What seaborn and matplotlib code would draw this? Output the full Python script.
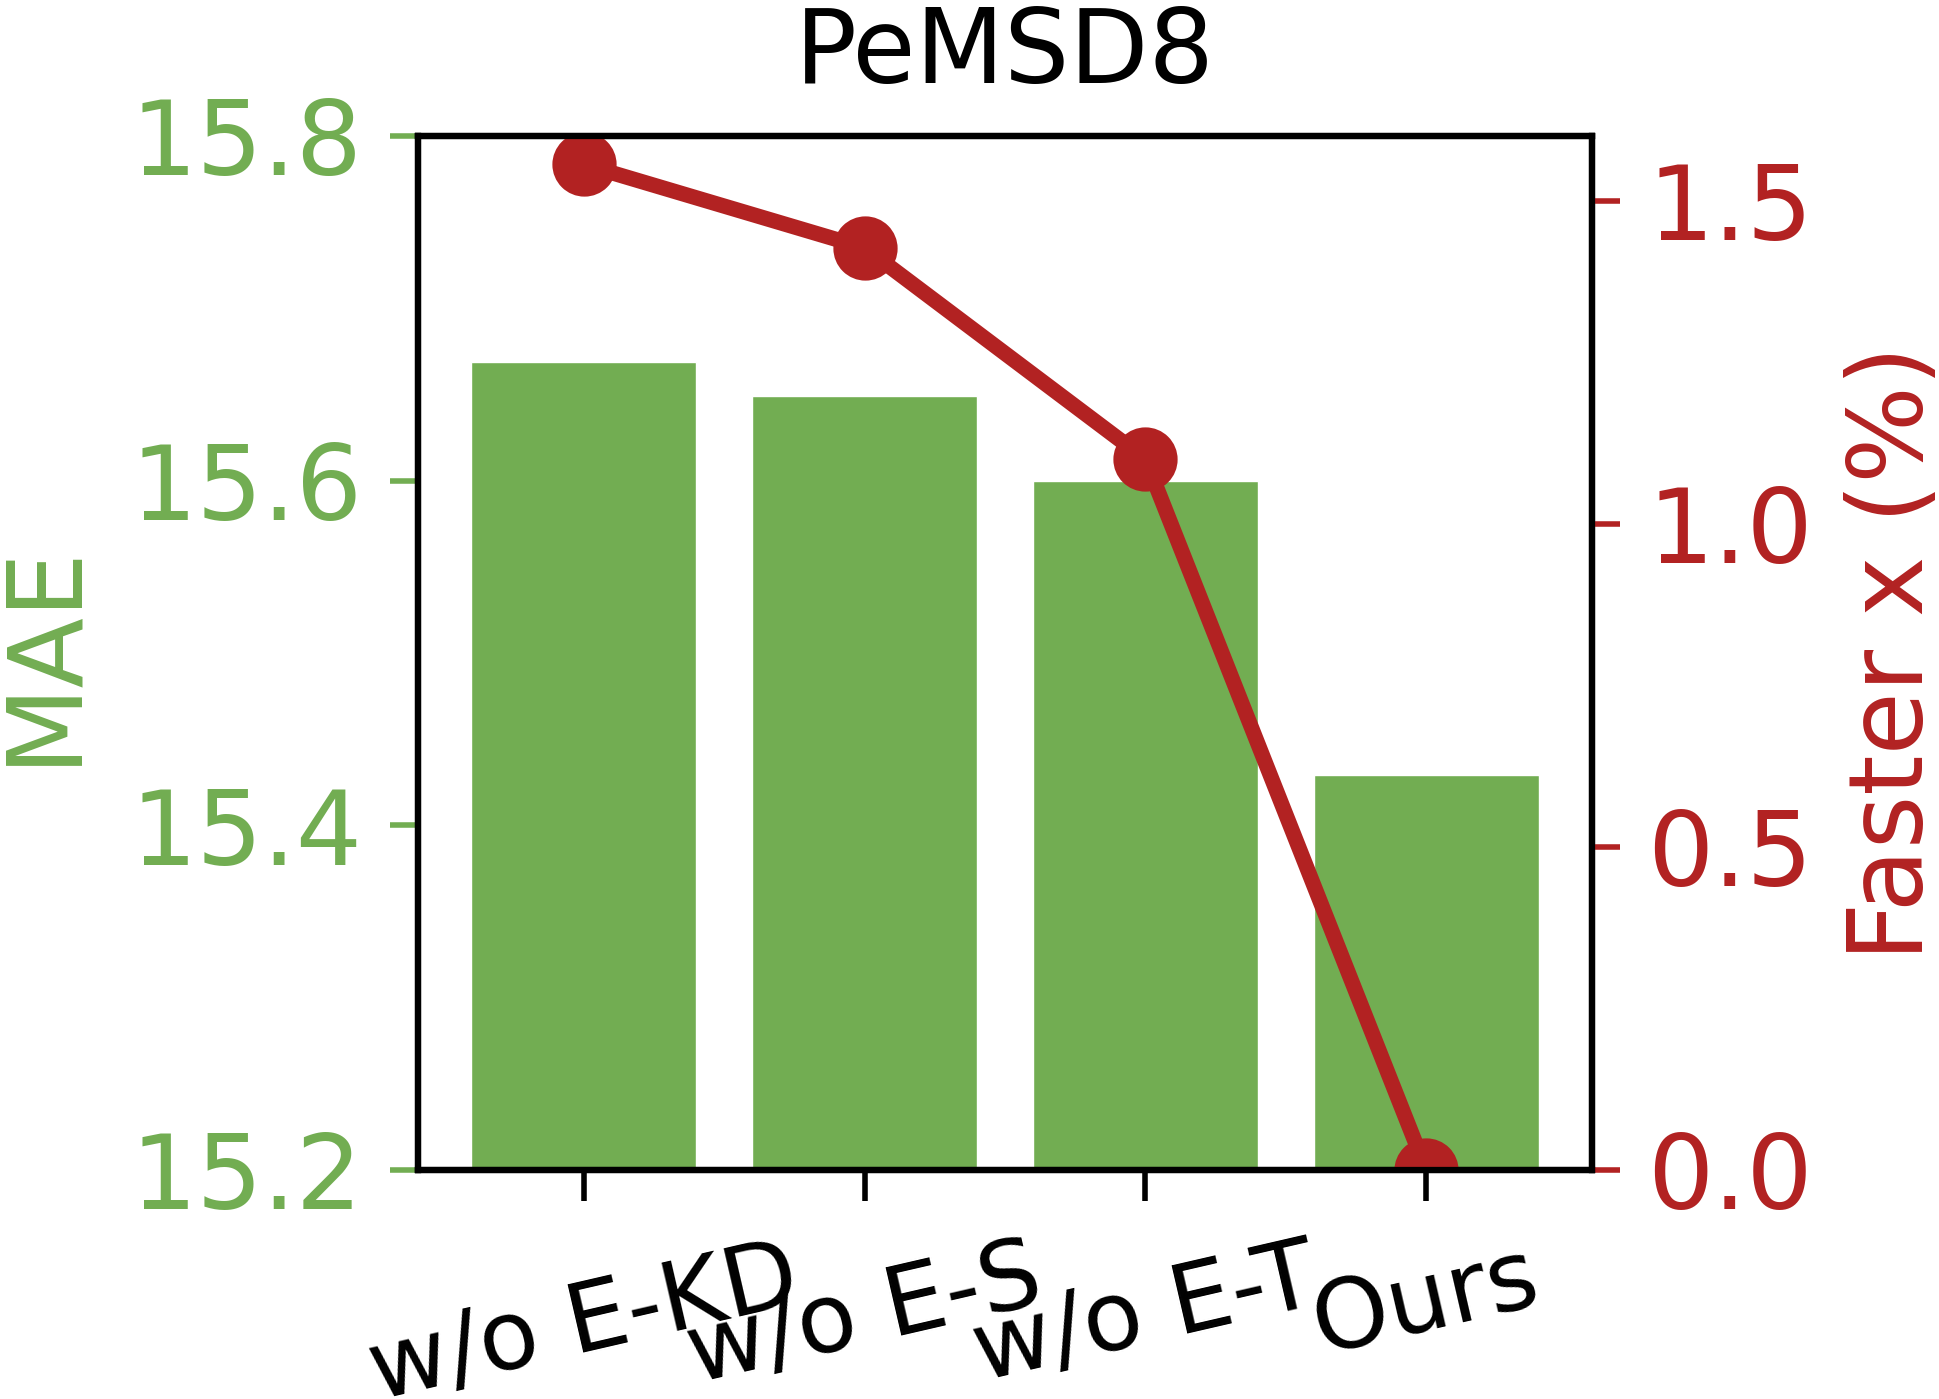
import numpy as np
import pandas as pd
import matplotlib
matplotlib.use("Agg")
import matplotlib.pyplot as plt
import seaborn as sns

# data
variants = ['w/o E-KD', 'w/o E-S', 'w/o E-T', 'Ours']
mae = [15.669, 15.649, 15.600, 15.429]
faster = [1.556, 1.427, 1.10, 0.0]
mae_ticks = [15.2, 15.4, 15.6, 15.8]
faster_ticks = [0.0, 0.5, 1.0, 1.5]

green = '#72ad52'
red = '#b22222'

sns.set_theme(style='ticks')
plt.rcParams['font.family'] = ['DejaVu Sans']
plt.rcParams['axes.edgecolor'] = 'black'
plt.rcParams['axes.linewidth'] = 4.5
plt.rcParams['text.color'] = 'black'

fig = plt.figure(figsize=(19.4, 13.99), dpi=100)
ax = fig.add_axes([0.2155, 0.1637, 0.6051, 0.7391])

df = pd.DataFrame({'variant': variants, 'mae': mae, 'faster': faster})

sns.barplot(data=df, x='variant', y='mae', color=green, saturation=1,
            width=0.8, ax=ax)
ax.set_ylim(15.2, 15.8)
ax.set_yticks(mae_ticks)
ax.set_yticklabels([f'{t:.1f}' for t in mae_ticks])
ax.set_ylabel('MAE', color=green, fontsize=74, labelpad=26)
ax.set_xlabel('')
ax.tick_params(axis='y', colors=green, labelsize=75, length=20, width=4, pad=20)
ax.tick_params(axis='x', colors='black', labelsize=70, length=22, width=4, pad=22)
plt.setp(ax.get_xticklabels(), rotation=13, ha='center')

ax2 = ax.twinx()
sns.pointplot(data=df, x='variant', y='faster', color=red, markersize=38,
              linewidth=11, ax=ax2)
ax2.set_ylim(0, 1.6)
ax2.set_yticks(faster_ticks)
ax2.set_yticklabels([f'{t:.1f}' for t in faster_ticks])
ax2.set_ylabel('Faster x (%)', color=red, fontsize=74, labelpad=22)
ax2.tick_params(axis='y', colors=red, labelsize=75, length=20, width=4, pad=20)
ax2.set_xlim(-0.59, 3.59)
ax.set_xlim(-0.59, 3.59)
for sp in ax2.spines.values():
    sp.set_visible(True)
    sp.set_color('black')
    sp.set_linewidth(4.5)

ax.set_title('PeMSD8', fontsize=74, pad=38, color='black')

fig.savefig('out.png', dpi=100)
